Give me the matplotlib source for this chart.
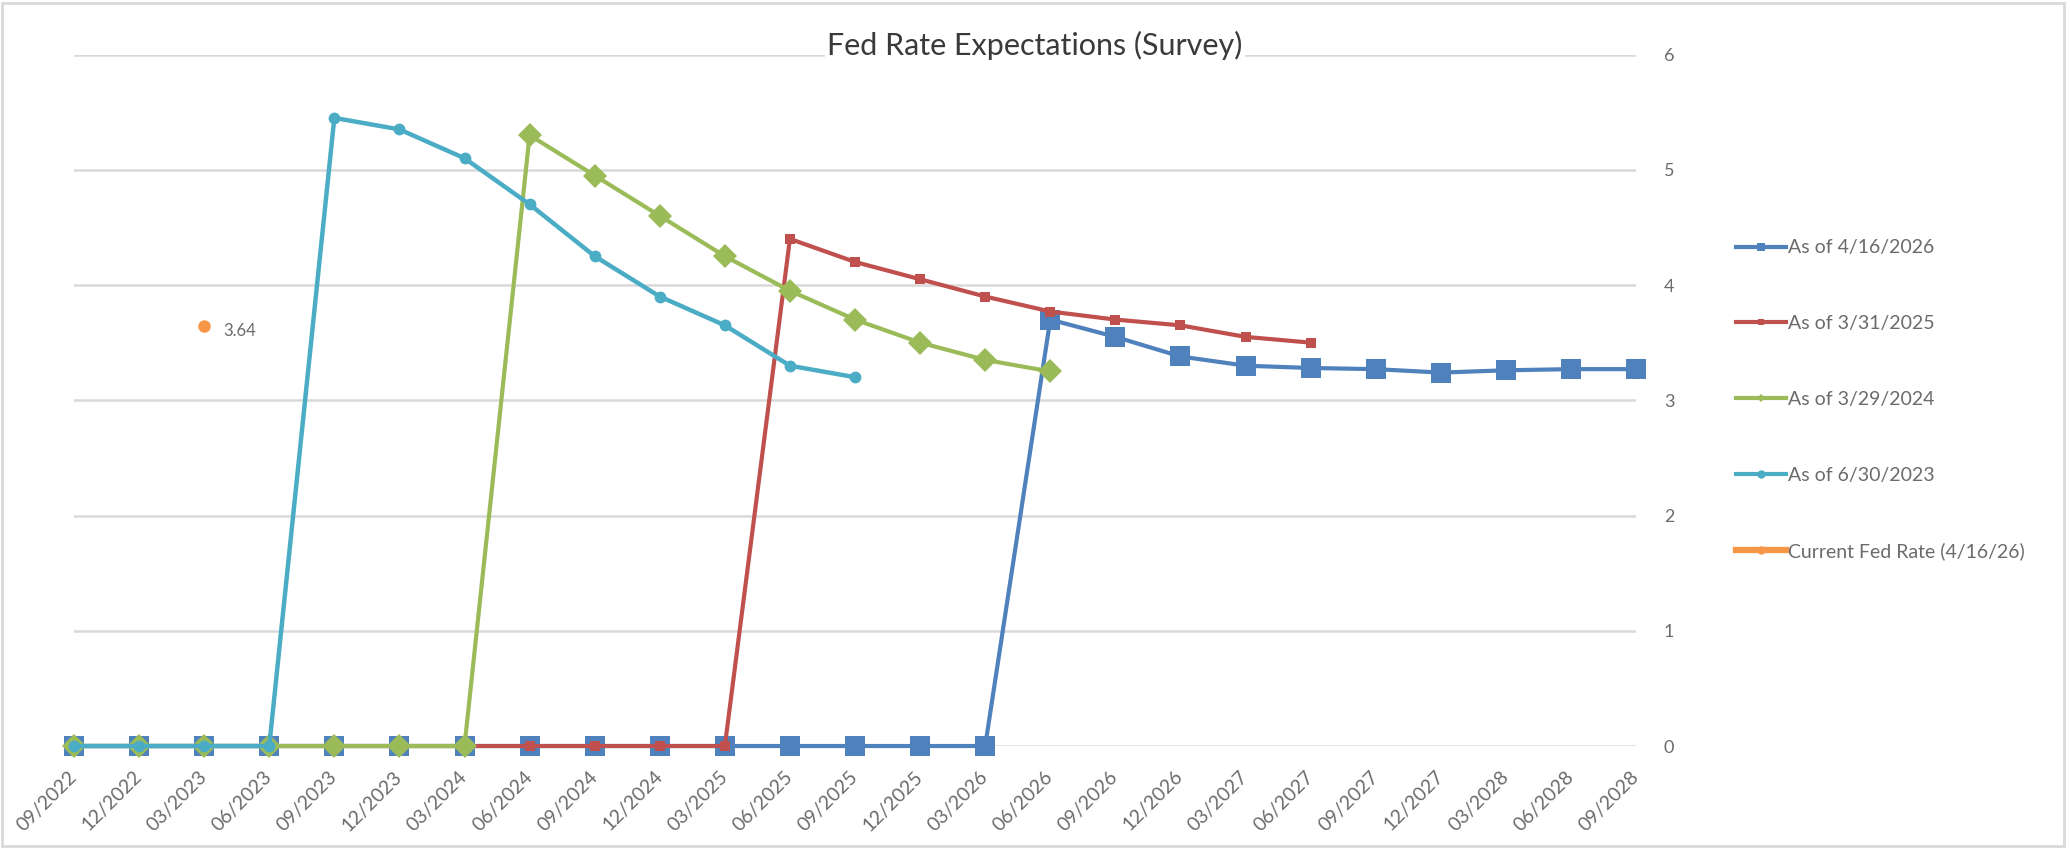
import numpy as np
import matplotlib
matplotlib.use("Agg")
import matplotlib.pyplot as plt
from matplotlib.lines import Line2D
from matplotlib.patches import Rectangle

plt.rcParams["font.family"] = ["Lato", "DejaVu Sans"]

# quarterly categories on the x axis
quarters = [
    "09/2022", "12/2022", "03/2023", "06/2023", "09/2023", "12/2023",
    "03/2024", "06/2024", "09/2024", "12/2024", "03/2025", "06/2025",
    "09/2025", "12/2025", "03/2026", "06/2026", "09/2026", "12/2026",
    "03/2027", "06/2027", "09/2027", "12/2027", "03/2028", "06/2028",
    "09/2028",
]

# survey expectations (zero before each survey's first quarter)
as_of_2026 = [0, 0, 0, 0, 0, 0, 0, 0, 0, 0, 0, 0, 0, 0, 0,
              3.70, 3.55, 3.38, 3.30, 3.28, 3.27, 3.24, 3.26, 3.27, 3.27]
as_of_2025 = [0, 0, 0, 0, 0, 0, 0, 0, 0, 0, 0,
              4.40, 4.20, 4.05, 3.90, 3.77, 3.70, 3.65, 3.55, 3.50]
as_of_2024 = [0, 0, 0, 0, 0, 0, 0,
              5.30, 4.95, 4.60, 4.25, 3.95, 3.70, 3.50, 3.35, 3.25]
as_of_2023 = [0, 0, 0, 0,
              5.45, 5.35, 5.10, 4.70, 4.25, 3.90, 3.65, 3.30, 3.20]

# current fed rate, shown as a single point
current_rate_idx = 2
current_rate = 3.64

BLUE = "#4F81BD"
RED = "#C0504D"
GREEN = "#9BBB59"
CYAN = "#4BACC6"
ORANGE = "#F79646"
TEXT_GREY = "#6b6b6b"
GRID_GREY = "#D9D9D9"

fig = plt.figure(figsize=(20.7, 8.49), dpi=100)
ax = fig.add_axes([0.03575, 0.1213, 0.7546, 0.8145])

# draw series, first one at the bottom
series = [
    (as_of_2026, BLUE, "s", 14, 3.0, "As of 4/16/2026"),
    (as_of_2025, RED, "s", 7.5, 3.0, "As of 3/31/2025"),
    (as_of_2024, GREEN, "D", 12.5, 3.0, "As of 3/29/2024"),
    (as_of_2023, CYAN, "o", 8.5, 3.2, "As of 6/30/2023"),
]
for z, (vals, col, mk, ms, lw, lab) in enumerate(series):
    x = np.arange(len(vals))
    ax.plot(x, vals, color=col, marker=mk, markersize=ms, linewidth=lw,
            markeredgewidth=0, zorder=3 + z, clip_on=False, label=lab)

ax.plot([current_rate_idx], [current_rate], "o", color=ORANGE, markersize=9,
        markeredgewidth=0, zorder=8, clip_on=False)
ax.annotate("%.2f" % current_rate, (current_rate_idx, current_rate),
            xytext=(14, -3), textcoords="offset points", ha="left", va="center",
            fontsize=12, color=TEXT_GREY)

# axes styling
ax.set_xlim(0, len(quarters) - 1)
ax.set_ylim(0, 6)
ax.set_xticks(np.arange(len(quarters)))
ax.set_xticklabels(quarters, rotation=45, ha="right", va="center",
                   rotation_mode="anchor", fontsize=14, color=TEXT_GREY)
ax.tick_params(axis="x", length=0, pad=20)
ax.yaxis.tick_right()
ax.set_yticks(range(7))
ax.tick_params(axis="y", length=0, pad=20, labelsize=13, labelcolor=TEXT_GREY)
ax.grid(axis="y", color=GRID_GREY, linewidth=1.8, zorder=0)
ax.set_axisbelow(True)
for s in ax.spines.values():
    s.set_visible(False)

fig.text(0.5, 0.947, "Fed Rate Expectations (Survey)", ha="center", va="center",
         fontsize=22, color="#3a3a3a",
         bbox=dict(facecolor="white", edgecolor="none", pad=2))

# legend with small markers
handles = [
    Line2D([], [], color=BLUE, marker="s", markersize=6, linewidth=3, markeredgewidth=0),
    Line2D([], [], color=RED, marker="s", markersize=5, linewidth=3, markeredgewidth=0),
    Line2D([], [], color=GREEN, marker="D", markersize=4.5, linewidth=3, markeredgewidth=0),
    Line2D([], [], color=CYAN, marker="o", markersize=6, linewidth=3, markeredgewidth=0),
    Line2D([], [], color=ORANGE, marker="o", markersize=6, linewidth=4.5, markeredgewidth=0),
]
labels = [s[5] for s in series] + ["Current Fed Rate (4/16/26)"]
fig.legend(handles, labels, loc="upper left", bbox_to_anchor=(0.8386, 0.718),
           frameon=False, fontsize=14, labelcolor=TEXT_GREY, handlelength=2.6,
           handletextpad=0.1, labelspacing=3.02, borderpad=0, borderaxespad=0)

# chart border
fig.patches.append(Rectangle((0.001, 0.004), 0.996, 0.993, transform=fig.transFigure,
                             fill=False, edgecolor=GRID_GREY, linewidth=2))

fig.savefig("out.png", dpi=100)
